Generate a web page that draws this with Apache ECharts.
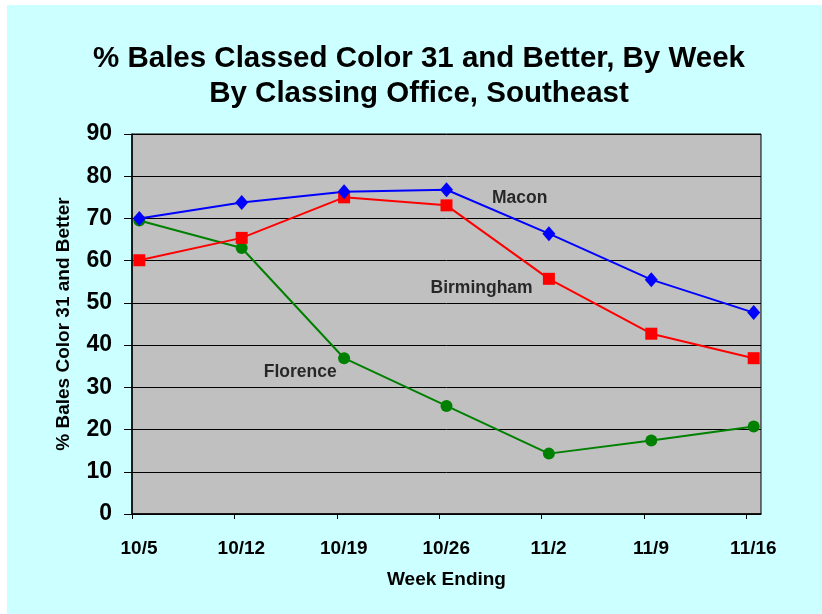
<!DOCTYPE html>
<html>
<head>
<meta charset="utf-8">
<script src="https://cdn.jsdelivr.net/npm/echarts@6/dist/echarts.min.js"></script>
<style>
  html, body { margin: 0; padding: 0; background: #ffffff; width: 822px; height: 614px; overflow: hidden; }
  #c { position: absolute; left: 7px; top: 5px; width: 815px; height: 609px; background: #CCFFFF; }
</style>
</head>
<body>
<div id="c"></div>
<script>
// ---- data ----
var weekLabels = ['10/5', '10/12', '10/19', '10/26', '11/2', '11/9', '11/16'];
var macon      = [70.0, 73.8, 76.3, 76.8, 66.4, 55.5, 47.7];
var birmingham = [60.1, 65.4, 75.0, 73.1, 55.7, 42.7, 36.9];
var florence   = [69.5, 63.0, 36.9, 25.6, 14.3, 17.4, 20.7];
var yTicks     = [0, 10, 20, 30, 40, 50, 60, 70, 80, 90];
// series name labels: [text, day position, value]
var seriesLabels = [
  ['Macon', 26.5, 74.9],
  ['Birmingham', 23.9, 53.4],
  ['Florence', 11.5, 33.5]
];

// date axis: one unit = one day, week-ending dates every 7 days,
// points plotted at the middle of their day
var DAYS_PER_WEEK = 7;
var tickDays = weekLabels.map(function (_, i) { return i * DAYS_PER_WEEK; });
function pts(arr) { return arr.map(function (v, i) { return [i * DAYS_PER_WEEK + 0.5, v]; }); }

var FONT = '"Liberation Sans", Arial, sans-serif';
var chart = echarts.init(document.getElementById('c'), null, { renderer: 'canvas' });

function mkSeries(name, data, color, symbol, size) {
  return {
    name: name, type: 'line', data: pts(data),
    symbol: symbol, symbolSize: size, showSymbol: true,
    lineStyle: { color: color, width: 2 },
    itemStyle: { color: color },
    animation: false
  };
}

var s1 = mkSeries('Macon', macon, '#0000FF', 'diamond', [13, 15]);
var s2 = mkSeries('Birmingham', birmingham, '#FF0000', 'rect', 12);
var s3 = mkSeries('Florence', florence, '#008000', 'circle', 12);

// annotation labels
var lblSeries = {
  type: 'scatter', symbolSize: 0, silent: true, animation: false,
  data: seriesLabels.map(function (l) { return { value: [l[1], l[2]], name: l[0] }; }),
  label: {
    show: true, position: 'inside',
    formatter: function (p) { return p.name; },
    color: '#000', fontFamily: FONT, fontWeight: 'bold', fontSize: 17.5
  },
  z: 5
};

chart.setOption({
  animation: false,
  title: {
    text: '% Bales Classed Color 31 and Better, By Week\nBy Classing Office, Southeast',
    left: 407, top: 31,
    textAlign: 'center',
    textStyle: { fontFamily: FONT, fontWeight: 'bold', fontSize: 29.5, lineHeight: 35, color: '#000' }
  },
  grid: {
    left: 125, top: 129, width: 629, height: 380,
    show: true, backgroundColor: '#C0C0C0', borderColor: '#000', borderWidth: 1
  },
  xAxis: {
    type: 'value', min: 0, max: 43, interval: DAYS_PER_WEEK,
    name: 'Week Ending', nameLocation: 'middle', nameGap: 56,
    nameTextStyle: { fontFamily: FONT, fontWeight: 'bold', fontSize: 19, color: '#000' },
    axisLine: { show: true, lineStyle: { color: '#000', width: 1.5 } },
    axisTick: { show: true, inside: false, length: 5, lineStyle: { color: '#000' }, customValues: tickDays },
    splitLine: { show: false },
    axisLabel: {
      customValues: tickDays,
      formatter: function (v) {
        var i = Math.round(v / DAYS_PER_WEEK);
        return (Math.abs(v - i * DAYS_PER_WEEK) < 1e-6 && weekLabels[i]) ? weekLabels[i] : '';
      },
      fontFamily: FONT, fontWeight: 'bold', fontSize: 19, color: '#000',
      margin: 25, padding: [0, 0, 0, 14]
    }
  },
  yAxis: {
    type: 'value', min: yTicks[0], max: yTicks[yTicks.length - 1], interval: 10,
    name: '% Bales Color 31 and Better', nameLocation: 'middle', nameGap: 59, nameRotate: 90,
    nameTextStyle: { fontFamily: FONT, fontWeight: 'bold', fontSize: 19, color: '#000' },
    axisLine: { show: true, lineStyle: { color: '#000', width: 1.5 } },
    axisTick: { show: true, inside: false, length: 8, lineStyle: { color: '#000' } },
    splitLine: { show: true, lineStyle: { color: '#000', width: 1 } },
    axisLabel: { fontFamily: FONT, fontWeight: 'bold', fontSize: 23, color: '#000', margin: 20, padding: [3, 0, 0, 0] }
  },
  series: [s3, s2, s1, lblSeries]
});
</script>
</body>
</html>
